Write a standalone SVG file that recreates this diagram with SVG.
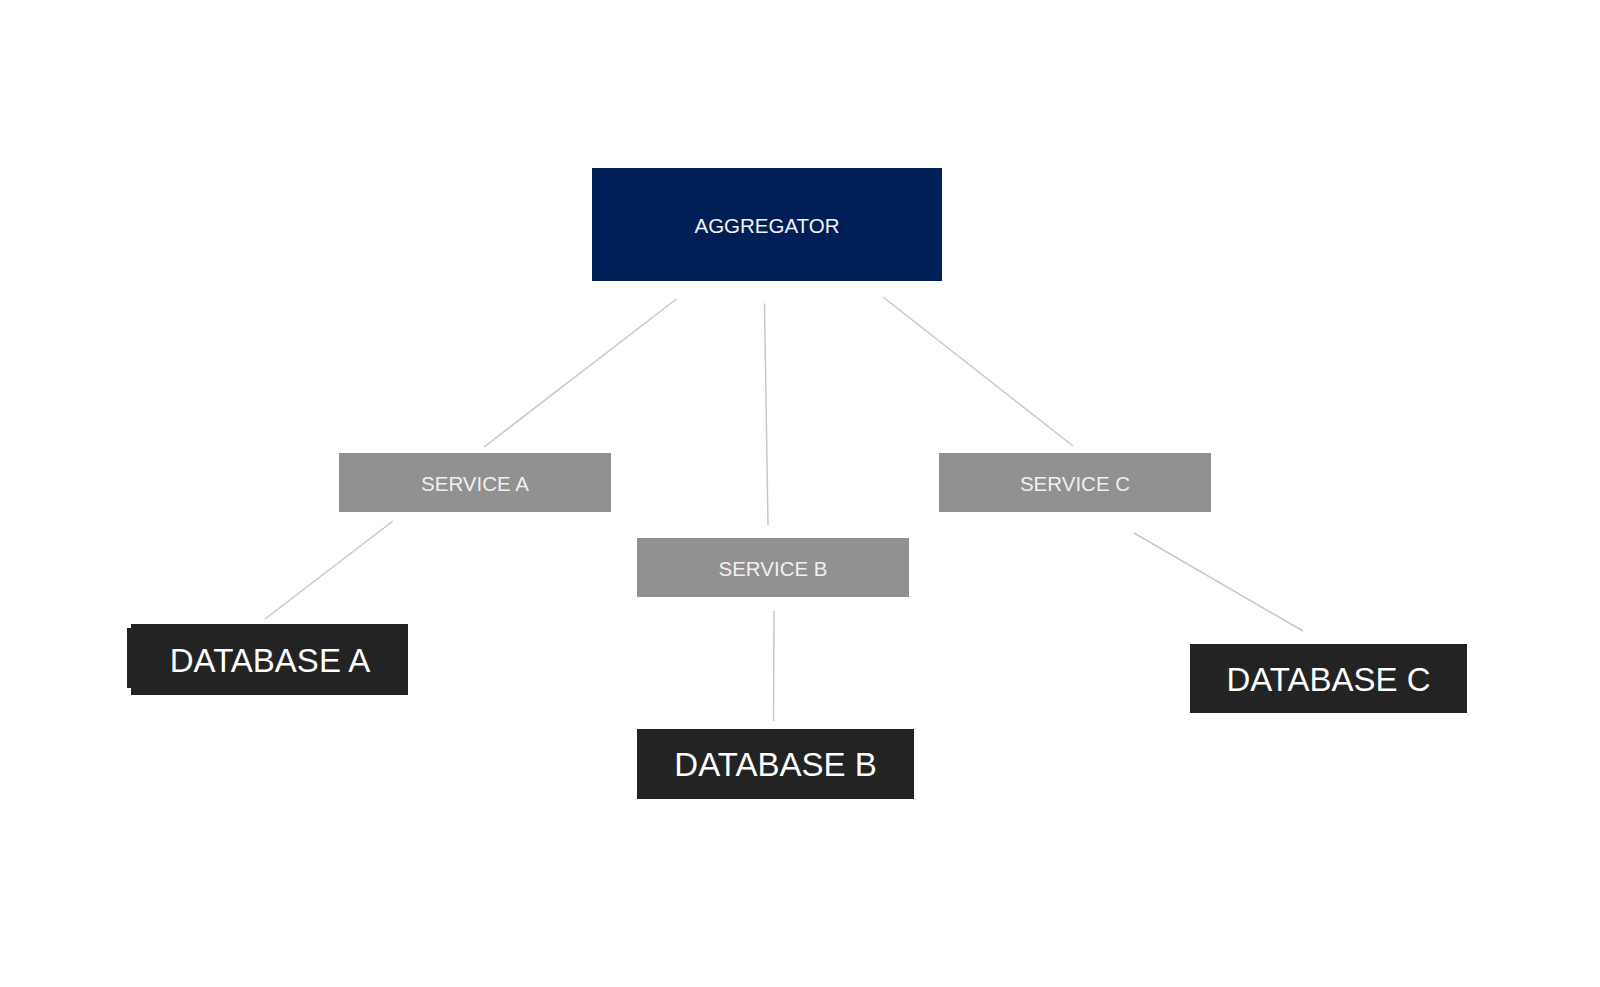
<svg xmlns="http://www.w3.org/2000/svg" width="1600" height="987" viewBox="0 0 1600 987">
<style>
.bg{fill:#ffffff}
.agg{fill:#001f57}
.svc{fill:#919191}
.db{fill:#232323}
.t{font-family:"Liberation Sans",Arial,sans-serif;text-anchor:middle;dominant-baseline:central}
.ts{font-size:20.5px;fill:#f0f0f0}
.td{font-size:33px;fill:#ffffff}
.c line{stroke:#c8c8c8;stroke-width:1.5;fill:none}
</style>
<rect class="bg" x="0" y="0" width="1600" height="987"/>
<g class="c" id="connectors">
<line x1="676.5" y1="299" x2="484" y2="447"/>
<line x1="764.5" y1="303.5" x2="768" y2="525"/>
<line x1="883" y1="297" x2="1073" y2="446"/>
<line x1="393" y1="521" x2="265" y2="619"/>
<line x1="774" y1="611" x2="773.5" y2="721"/>
<line x1="1134" y1="533" x2="1303" y2="631"/>
</g>
<g id="aggregator">
<rect class="agg" x="592" y="168" width="350" height="113"/>
<text class="t ts" x="767" y="225">AGGREGATOR</text>
</g>
<g id="service-a">
<rect class="svc" x="339" y="453" width="272" height="59"/>
<text class="t ts" x="475" y="483.5">SERVICE A</text>
</g>
<g id="service-b">
<rect class="svc" x="637" y="538" width="272" height="59"/>
<text class="t ts" x="773" y="568.5">SERVICE B</text>
</g>
<g id="service-c">
<rect class="svc" x="939" y="453" width="272" height="59"/>
<text class="t ts" x="1075" y="483.5">SERVICE C</text>
</g>
<g id="database-a">
<rect class="db" x="127" y="628" width="10" height="60"/>
<rect class="db" x="131" y="624" width="277" height="71"/>
<text class="t td" x="270" y="660">DATABASE A</text>
</g>
<g id="database-b">
<rect class="db" x="637" y="729" width="277" height="70"/>
<text class="t td" x="775.5" y="764.5">DATABASE B</text>
</g>
<g id="database-c">
<rect class="db" x="1190" y="644" width="277" height="69"/>
<text class="t td" x="1328.5" y="679">DATABASE C</text>
</g>
</svg>
